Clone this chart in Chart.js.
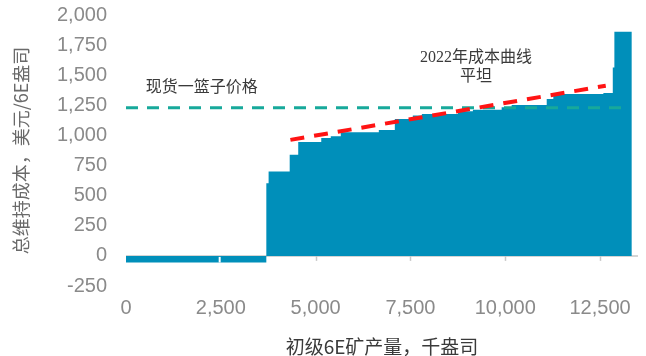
<!DOCTYPE html>
<html lang="zh-CN">
<head>
<meta charset="utf-8">
<title>2022年6E成本曲线</title>
<script src="https://cdn.jsdelivr.net/npm/chart.js@4.4.1/dist/chart.umd.min.js"></script>
<style>
    html, body { margin: 0; padding: 0; background: #ffffff; }
    #costCurve { display: block; }
</style>
</head>
<body>
<canvas id="costCurve" width="646" height="356"></canvas>
<script>
// ============================================
// 数据：各矿山产量与维持成本（按成本排序）
// ============================================

// 每座矿山的初级6E产量，千盎司
const mineOutput = [2470, 1230, 60, 556, 225, 607, 251, 264, 1003, 422, 475,
                    238, 950, 396, 758, 264, 924, 174, 1320, 248, 42, 460];
// 对应的总维持成本，美元/6E盎司
const mineCost = [-55, -55, 603, 700, 840, 945, 979, 993, 1026, 1045, 1137,
                  1165, 1178, 1200, 1214, 1235, 1253, 1302, 1344, 1352, 1564, 1860];

// 现货一篮子价格及其覆盖的产量范围
const basketPrice = 1230;
const basketRange = [0, 13200];

// 成本曲线趋势线两端 [产量, 成本]
const trendStart = [4335, 963];
const trendEnd = [12650, 1413];

// 坐标轴刻度
const xTicks = [0, 2500, 5000, 7500, 10000, 12500];
const yTicks = [-250, 0, 250, 500, 750, 1000, 1250, 1500, 1750, 2000];

// 图中文字标注，锚点为数据坐标
const notes = [
    { text: '现货一篮子价格', x: 2000, y: 1398 },
    { text: '2022年成本曲线', x: 9230, y: 1645 },
    { text: '平坦', x: 9230, y: 1487 }
];

// ============================================
// 样式
// ============================================

const BAR_COLOR = '#008fba';
const TICK_COLOR = '#8a8a8a';
const SANS = '"Liberation Sans", Arial, sans-serif';
const SERIF = '"Liberation Serif", "Noto Sans CJK SC", serif';
const CJK = '"Noto Sans CJK SC", sans-serif';

// 由产量累加出阶梯点：每个点的成本一直保持到下一座矿山开始
function buildSteps() {
    const points = [];
    let start = 0;
    mineOutput.forEach((w, i) => {
        points.push({ x: start, y: mineCost[i] });
        start += w;
    });
    points.push({ x: start, y: mineCost[mineCost.length - 1] });
    return points;
}

// 零线下方小刻度（先画，被柱子盖住的部分不显示）
const zeroTickPlugin = {
    id: 'zeroTicks',
    beforeDatasetsDraw(chart) {
        const { ctx, scales: { x, y } } = chart;
        const y0 = y.getPixelForValue(0);
        ctx.save();
        ctx.strokeStyle = '#c8c8c8';
        ctx.lineWidth = 1.5;
        xTicks.slice(1).forEach(v => {
            const px = Math.round(x.getPixelForValue(v)) + 0.5;
            ctx.beginPath();
            ctx.moveTo(px, y0);
            ctx.lineTo(px, y0 + 5);
            ctx.stroke();
        });
        ctx.restore();
    }
};

// 文字标注、相同成本矿山之间的白色分隔
const decorPlugin = {
    id: 'decor',
    afterDatasetsDraw(chart) {
        const { ctx, scales: { x, y } } = chart;
        const y0 = y.getPixelForValue(0);
        ctx.save();

        let start = 0;
        ctx.strokeStyle = '#ffffff';
        ctx.lineWidth = 2;
        mineOutput.forEach((w, i) => {
            if (i > 0 && mineCost[i] === mineCost[i - 1]) {
                const px = x.getPixelForValue(start);
                ctx.beginPath();
                ctx.moveTo(px, y0 + 1);
                ctx.lineTo(px, y.getPixelForValue(mineCost[i]));
                ctx.stroke();
            }
            start += w;
        });

        ctx.fillStyle = '#3a3a3a';
        ctx.font = '16px ' + SERIF;
        ctx.textAlign = 'center';
        ctx.textBaseline = 'middle';
        notes.forEach(n => {
            ctx.fillText(n.text, x.getPixelForValue(n.x), y.getPixelForValue(n.y));
        });
        ctx.restore();
    }
};

function createCostCurve() {
    const canvas = document.getElementById('costCurve');

    new Chart(canvas, {
        type: 'line',
        data: {
            datasets: [
                {
                    label: '趋势',
                    data: [
                        { x: trendStart[0], y: trendStart[1] },
                        { x: trendEnd[0], y: trendEnd[1] }
                    ],
                    borderColor: '#ff1414',
                    borderWidth: 4,
                    borderDash: [14, 10],
                    borderCapStyle: 'butt',
                    pointRadius: 0,
                    fill: false,
                    order: 1
                },
                {
                    label: '现货一篮子价格',
                    data: basketRange.map(v => ({ x: v, y: basketPrice })),
                    borderColor: '#17a99b',
                    borderWidth: 3,
                    borderDash: [12, 9],
                    borderCapStyle: 'butt',
                    pointRadius: 0,
                    fill: false,
                    order: 2
                },
                {
                    label: '总维持成本',
                    data: buildSteps(),
                    stepped: 'before',
                    borderWidth: 0,
                    borderColor: BAR_COLOR,
                    backgroundColor: BAR_COLOR,
                    pointRadius: 0,
                    fill: 'origin',
                    order: 3
                }
            ]
        },
        options: {
            responsive: false,
            animation: false,
            layout: { autoPadding: false, padding: { top: 15, right: 8, left: 0, bottom: 0 } },
            plugins: {
                legend: { display: false },
                tooltip: { enabled: false }
            },
            scales: {
                x: {
                    type: 'linear',
                    min: 0,
                    max: 13500,
                    afterFit: s => { s.height = 70; s.paddingLeft = 0; s.paddingRight = 0; },
                    afterBuildTicks: s => { s.ticks = xTicks.map(v => ({ value: v })); },
                    grid: { display: false, drawTicks: false },
                    border: { display: false },
                    ticks: {
                        padding: 10,
                        color: TICK_COLOR,
                        font: { family: SANS, size: 20 },
                        maxRotation: 0,
                        callback: v => v.toLocaleString('en-US')
                    },
                    title: {
                        display: true,
                        text: '初级6E矿产量，千盎司',
                        color: '#3a3a3a',
                        font: { family: CJK, size: 19, lineHeight: 1 },
                        padding: { top: 0, bottom: 0 }
                    }
                },
                y: {
                    min: -250,
                    max: 2000,
                    afterFit: s => { s.width = 126; s.paddingTop = 0; s.paddingBottom = 0; },
                    afterBuildTicks: s => { s.ticks = yTicks.map(v => ({ value: v })); },
                    grid: {
                        drawTicks: false,
                        lineWidth: 2,
                        color: c => (c.tick && c.tick.value === 0 ? '#d4d4d4' : 'rgba(0,0,0,0)')
                    },
                    border: { display: false },
                    ticks: {
                        padding: 19,
                        color: TICK_COLOR,
                        font: { family: SANS, size: 20 },
                        callback: v => v.toLocaleString('en-US')
                    },
                    title: {
                        display: true,
                        text: '总维持成本，美元/6E盎司',
                        color: '#6a6a6a',
                        font: { family: CJK, size: 18, lineHeight: 1.2 },
                        padding: { top: 10, bottom: 0 }
                    }
                }
            }
        },
        plugins: [zeroTickPlugin, decorPlugin]
    });
}

createCostCurve();
</script>
</body>
</html>
